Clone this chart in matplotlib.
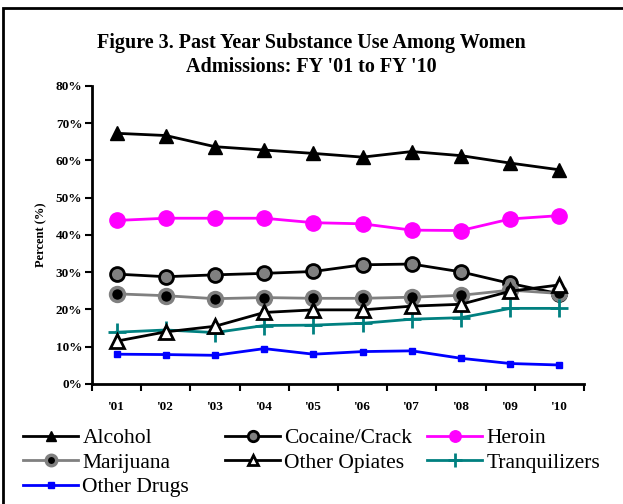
import matplotlib
matplotlib.use("Agg")
import matplotlib.pyplot as plt
from matplotlib.patches import Rectangle

years = ["'01", "'02", "'03", "'04", "'05", "'06", "'07", "'08", "'09", "'10"]
alcohol = [67.3, 66.7, 63.7, 62.8, 61.9, 60.9, 62.4, 61.3, 59.3, 57.5]
cocaine = [29.5, 28.8, 29.3, 29.7, 30.2, 32.0, 32.2, 30.1, 27.0, 24.2]
heroin = [43.9, 44.5, 44.5, 44.5, 43.3, 43.0, 41.3, 41.2, 44.3, 45.2]
marijuana = [24.2, 23.7, 22.9, 23.2, 23.0, 23.0, 23.3, 23.8, 25.2, 24.3]
other_opiates = [11.5, 14.0, 15.5, 19.2, 19.9, 19.9, 20.9, 21.4, 24.9, 26.6]
tranquilizers = [13.9, 14.5, 13.8, 15.7, 15.8, 16.3, 17.4, 17.8, 20.3, 20.3]
other_drugs = [8.0, 7.9, 7.7, 9.5, 8.0, 8.7, 8.9, 6.9, 5.5, 5.1]

plt.rcParams["font.family"] = ["Liberation Serif", "DejaVu Serif"]

fig = plt.figure(figsize=(6.23, 5.04), dpi=100)
ax = fig.add_axes([0.1477, 0.2381, 0.7897, 0.5913])
x = list(range(1, len(years) + 1))

h = {}
h["Alcohol"], = ax.plot(x, alcohol, color="black", lw=2, marker="^", ms=10,
                        mfc="black", mec="black", label="Alcohol", zorder=3)
h["Heroin"], = ax.plot(x, heroin, color="#FF00FF", lw=2, marker="o", ms=11,
                       mfc="#FF00FF", mec="#FF00FF", label="Heroin", zorder=3)
h["Cocaine/Crack"], = ax.plot(x, cocaine, color="black", lw=2, marker="o", ms=10,
                              mfc="#808080", mec="black", mew=2, label="Cocaine/Crack", zorder=3)
h["Marijuana"], = ax.plot(x, marijuana, color="#808080", lw=2, marker="o", ms=10,
                          mfc="black", mec="#808080", mew=2.5, label="Marijuana", zorder=3)
h["Other Opiates"], = ax.plot(x, other_opiates, color="black", lw=2, marker="^", ms=10,
                              mfc="white", mec="black", mew=2, label="Other Opiates", zorder=4)
h["Tranquilizers"], = ax.plot(x, tranquilizers, color="#008080", lw=2, marker="+", ms=13,
                              mew=2, label="Tranquilizers", zorder=3)
h["Other Drugs"], = ax.plot(x, other_drugs, color="#0000FF", lw=2, marker="s", ms=5,
                            mfc="#0000FF", mec="#0000FF", label="Other Drugs", zorder=3)

ax.set_xlim(0.5, len(years) + 0.5)
ax.set_ylim(0, 80)
ax.set_yticks(range(0, 81, 10))
ax.set_yticklabels([f"{v}%" for v in range(0, 81, 10)], fontsize=9.5, fontweight="bold")
ax.set_xticks(x)
ax.set_xticklabels(years, fontsize=9.5, fontweight="bold")
ax.set_xticks([i + 0.5 for i in range(0, len(years) + 1)], minor=True)
ax.tick_params(axis="x", which="major", length=0, pad=12)
ax.tick_params(axis="x", which="minor", length=5, width=1.5, direction="out")
ax.tick_params(axis="y", length=5, width=1.5, direction="out", pad=2)
for s in ["top", "right"]:
    ax.spines[s].set_visible(False)
for s in ["left", "bottom"]:
    ax.spines[s].set_linewidth(2)
ax.set_ylabel("Percent (%)", fontsize=9, fontweight="bold", labelpad=6)

fig.text(0.5, 0.891, "Figure 3. Past Year Substance Use Among Women\nAdmissions: FY '01 to FY '10",
         ha="center", va="center", fontsize=14.5, fontweight="bold", linespacing=1.3)

# legend laid out as three fixed-width columns, like the original
columns = [
    (23, ["Alcohol", "Marijuana", "Other Drugs"]),
    (225, ["Cocaine/Crack", "Other Opiates"]),
    (427, ["Heroin", "Tranquilizers"]),
]
for x0, names in columns:
    leg = fig.legend([h[k] for k in names], names, loc="upper left",
                     bbox_to_anchor=(x0 / 623, 0.150), frameon=False, fontsize=15.5,
                     handlelength=2.56, handletextpad=0.2, labelspacing=0.2,
                     borderaxespad=0, borderpad=0, markerscale=0.75)

fig.add_artist(Rectangle((3 / 623, -0.05), 1.2, 1 - 8 / 504 + 0.05, transform=fig.transFigure,
                         fill=False, ec="black", lw=2))

fig.savefig("out.png", dpi=100)
